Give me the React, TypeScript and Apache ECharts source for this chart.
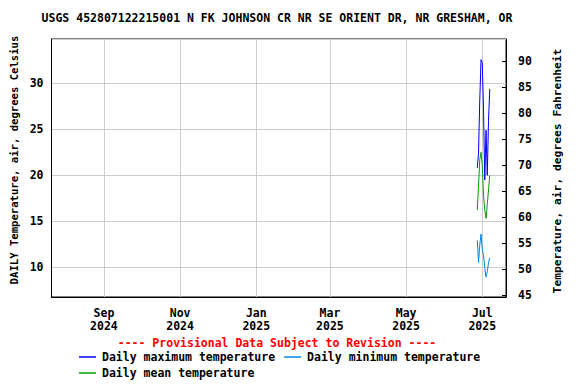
import React, { useEffect, useRef } from "react";
import * as echarts from "echarts";

// Axis window (daily)
const axisStart = "2024-07-21";
const axisEnd = "2025-07-20";

// Observed daily data
const dataDates = [
  "2025-06-27", "2025-06-28", "2025-06-29", "2025-06-30", "2025-07-01",
  "2025-07-02", "2025-07-03", "2025-07-04", "2025-07-05", "2025-07-06", "2025-07-07",
];
const maxTemp = [20.8, 22.4, 28.2, 32.6, 32.3, 27.1, 19.5, 24.9, 20.0, 26.0, 29.4];
const minTemp = [12.9, 10.5, 12.4, 13.6, 11.9, 11.3, 9.9, 8.9, 9.5, 10.5, 11.0];
const meanTemp = [16.2, 18.9, 21.7, 22.5, 21.1, 17.8, 16.2, 15.3, 16.8, 18.4, 20.0];

const monthNames = ["Jan", "Feb", "Mar", "Apr", "May", "Jun", "Jul", "Aug", "Sep", "Oct", "Nov", "Dec"];
const labelMonths = [9, 11, 1, 3, 5, 7];

const FONT = "DejaVu Sans Mono";

function buildDays(start: string, end: string): string[] {
  const out: string[] = [];
  const d = new Date(start + "T00:00:00Z");
  const e = new Date(end + "T00:00:00Z");
  while (d.getTime() <= e.getTime()) {
    out.push(d.toISOString().slice(0, 10));
    d.setUTCDate(d.getUTCDate() + 1);
  }
  return out;
}

function isTickDay(value: string): boolean {
  const m = parseInt(value.slice(5, 7), 10);
  return value.slice(8, 10) === "01" && labelMonths.includes(m);
}

export default function App() {
  const ref = useRef<HTMLDivElement>(null);
  useEffect(() => {
    if (!ref.current) return;
    const chart = echarts.init(ref.current, undefined, { renderer: "svg" });
    const days = buildDays(axisStart, axisEnd);
    const mapSeries = (vals: number[]) =>
      days.map((d) => {
        const i = dataDates.indexOf(d);
        return i >= 0 ? vals[i] : null;
      });
    const tickFn = (_idx: number, value: string) => isTickDay(value);
    const textBase = { fontFamily: FONT, fontWeight: "bold" as const, fontSize: 11.5, color: "#000" };
    chart.setOption({
      animation: false,
      backgroundColor: "#fff",
      grid: {
        left: 51.5,
        right: 70,
        top: 39,
        bottom: 87,
        show: true,
        borderColor: "#000",
        borderWidth: 1,
        backgroundColor: "transparent",
      },
      xAxis: {
        type: "category",
        data: days,
        boundaryGap: false,
        axisLine: { show: true, lineStyle: { color: "#000", width: 1 } },
        axisTick: { show: false },
        axisLabel: {
          interval: tickFn,
          margin: 9,
          lineHeight: 13,
          ...textBase,
          formatter: (v: string) => {
            const m = parseInt(v.slice(5, 7), 10);
            return monthNames[m - 1] + "\n" + v.slice(0, 4);
          },
        },
        splitLine: { show: true, interval: tickFn, lineStyle: { color: "#cccccc", width: 1 } },
      },
      yAxis: [
        {
          type: "value",
          min: 6.73,
          max: 34.85,
          splitNumber: 6,
          axisLine: { show: true, lineStyle: { color: "#000" } },
          axisTick: { show: false },
          axisLabel: { ...textBase, margin: 8, showMinLabel: false, showMaxLabel: false },
          splitLine: { show: true, lineStyle: { color: "#cccccc", width: 1 } },
        },
        {
          type: "value",
          position: "right",
          min: 44.62,
          max: 94.23,
          splitNumber: 10,
          axisLine: { show: true, lineStyle: { color: "#000" } },
          axisTick: { show: true, inside: true, length: 4, lineStyle: { color: "#000" } },
          axisLabel: { ...textBase, margin: 12, showMinLabel: false, showMaxLabel: false },
          splitLine: { show: false },
        },
      ],
      legend: [
        {
          left: 79,
          top: 351,
          padding: 0,
          itemWidth: 17,
          itemHeight: 1.5,
          itemGap: 9,
          icon: "rect",
          textStyle: { ...textBase, padding: [0, 0, 0, 1] },
          data: ["Daily maximum temperature", "Daily minimum temperature"],
        },
        {
          left: 79,
          top: 367,
          padding: 0,
          itemWidth: 17,
          itemHeight: 1.5,
          icon: "rect",
          textStyle: { ...textBase, padding: [0, 0, 0, 1] },
          data: ["Daily mean temperature"],
        },
      ],
      series: [
        {
          name: "Daily maximum temperature",
          type: "line",
          data: mapSeries(maxTemp),
          showSymbol: false,
          lineStyle: { color: "#0000ff", width: 1 },
          itemStyle: { color: "#0000ff" },
        },
        {
          name: "Daily minimum temperature",
          type: "line",
          data: mapSeries(minTemp),
          showSymbol: false,
          lineStyle: { color: "#0088dd", width: 1 },
          itemStyle: { color: "#0088dd" },
        },
        {
          name: "Daily mean temperature",
          type: "line",
          data: mapSeries(meanTemp),
          showSymbol: false,
          lineStyle: { color: "#00a000", width: 1 },
          itemStyle: { color: "#00a000" },
        },
      ],
      graphic: [
        {
          type: "text",
          x: 277,
          y: 18,
          style: {
            text: "USGS 452807122215001 N FK JOHNSON CR NR SE ORIENT DR, NR GRESHAM, OR",
            font: `bold 11.5px "${FONT}"`,
            fill: "#000",
            align: "center",
            verticalAlign: "middle",
          },
        },
        {
          type: "text",
          x: 14,
          y: 160,
          rotation: Math.PI / 2,
          style: {
            text: "DAILY Temperature, air, degrees Celsius",
            font: `bold 10.6px "${FONT}"`,
            fill: "#000",
            align: "center",
            verticalAlign: "middle",
          },
        },
        {
          type: "text",
          x: 557,
          y: 171,
          rotation: Math.PI / 2,
          style: {
            text: "Temperature, air, degrees Fahrenheit",
            font: `bold 11.3px "${FONT}"`,
            fill: "#000",
            align: "center",
            verticalAlign: "middle",
          },
        },
        {
          type: "text",
          x: 277,
          y: 343,
          style: {
            text: "---- Provisional Data Subject to Revision ----",
            font: `bold 11.5px "${FONT}"`,
            fill: "#ff0000",
            align: "center",
            verticalAlign: "middle",
          },
        },
      ],
    });
    return () => chart.dispose();
  }, []);
  return <div ref={ref} style={{ width: 576, height: 384, position: "fixed", left: 0, top: 0 }} />;
}
